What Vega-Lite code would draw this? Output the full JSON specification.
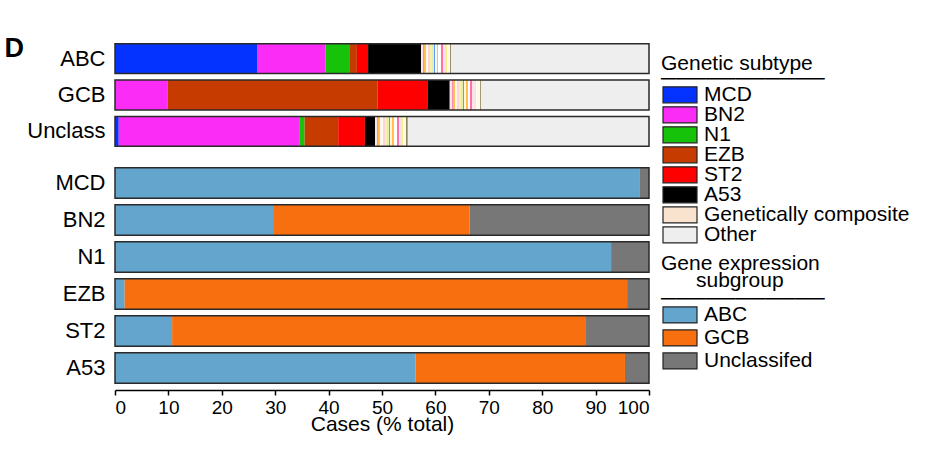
{
  "$schema": "https://vega.github.io/schema/vega-lite/v6.json",
  "padding": {"left": 4, "top": 34, "right": 5, "bottom": 5},
  "bounds": "flush",
  "spacing": 14,
  "background": "white",
  "config": {
    "font": "Liberation Sans",
    "view": {"stroke": null},
    "axis": {"labelColor": "#000", "titleColor": "#000", "grid": false},
    "axisX": {
      "labelFontSize": 19, "titleFontSize": 21, "titleFontWeight": "normal",
      "domainColor": "#000", "domainWidth": 1.5, "tickColor": "#000", "tickWidth": 1.5,
      "tickSize": 5, "labelPadding": 3, "titlePadding": -4
    },
    "legend": {
      "symbolType": "M-1.0625,-1H3.1875V1H-1.0625Z",
      "symbolSize": 256,
      "symbolStrokeColor": "#222",
      "symbolStrokeWidth": 1.2,
      "symbolOpacity": 1,
      "labelFontSize": 21,
      "labelColor": "#000",
      "titleColor": "#000",
      "titleFontSize": 21,
      "titleFontWeight": "normal",
      "labelOffset": 22,
      "titleLimit": 400,
      "labelLimit": 400
    }
  },
  "resolve": {"scale": {"color": "independent"}},
  "datasets": {
    "genetic": [
      {"cohort": "ABC", "subtype": "MCD", "pct": 26.6},
      {"cohort": "ABC", "subtype": "BN2", "pct": 12.8},
      {"cohort": "ABC", "subtype": "N1", "pct": 4.6},
      {"cohort": "ABC", "subtype": "EZB", "pct": 1.3},
      {"cohort": "ABC", "subtype": "ST2", "pct": 2.1},
      {"cohort": "ABC", "subtype": "A53", "pct": 9.9},
      {"cohort": "ABC", "subtype": "Genetically composite", "pct": 5.6},
      {"cohort": "ABC", "subtype": "Other", "pct": 37.1},
      {"cohort": "GCB", "subtype": "MCD", "pct": 0},
      {"cohort": "GCB", "subtype": "BN2", "pct": 9.9},
      {"cohort": "GCB", "subtype": "N1", "pct": 0},
      {"cohort": "GCB", "subtype": "EZB", "pct": 39.3},
      {"cohort": "GCB", "subtype": "ST2", "pct": 9.4},
      {"cohort": "GCB", "subtype": "A53", "pct": 4.1},
      {"cohort": "GCB", "subtype": "Genetically composite", "pct": 5.8},
      {"cohort": "GCB", "subtype": "Other", "pct": 31.5},
      {"cohort": "Unclass", "subtype": "MCD", "pct": 0.7},
      {"cohort": "Unclass", "subtype": "BN2", "pct": 33.8},
      {"cohort": "Unclass", "subtype": "N1", "pct": 1.0},
      {"cohort": "Unclass", "subtype": "EZB", "pct": 6.3},
      {"cohort": "Unclass", "subtype": "ST2", "pct": 5.0},
      {"cohort": "Unclass", "subtype": "A53", "pct": 1.9},
      {"cohort": "Unclass", "subtype": "Genetically composite", "pct": 6.1},
      {"cohort": "Unclass", "subtype": "Other", "pct": 45.2}
    ],
    "expression": [
      {"subtype": "MCD", "group": "ABC", "pct": 98.3},
      {"subtype": "MCD", "group": "GCB", "pct": 0},
      {"subtype": "MCD", "group": "Unclassifed", "pct": 1.7},
      {"subtype": "BN2", "group": "ABC", "pct": 29.6},
      {"subtype": "BN2", "group": "GCB", "pct": 36.8},
      {"subtype": "BN2", "group": "Unclassifed", "pct": 33.6},
      {"subtype": "N1", "group": "ABC", "pct": 92.9},
      {"subtype": "N1", "group": "GCB", "pct": 0},
      {"subtype": "N1", "group": "Unclassifed", "pct": 7.1},
      {"subtype": "EZB", "group": "ABC", "pct": 1.8},
      {"subtype": "EZB", "group": "GCB", "pct": 94.1},
      {"subtype": "EZB", "group": "Unclassifed", "pct": 4.1},
      {"subtype": "ST2", "group": "ABC", "pct": 10.7},
      {"subtype": "ST2", "group": "GCB", "pct": 77.5},
      {"subtype": "ST2", "group": "Unclassifed", "pct": 11.8},
      {"subtype": "A53", "group": "ABC", "pct": 56.3},
      {"subtype": "A53", "group": "GCB", "pct": 39.2},
      {"subtype": "A53", "group": "Unclassifed", "pct": 4.5}
    ]
  },
  "vconcat": [
    {
      "width": 534,
      "height": 110,
      "data": {"name": "genetic"},
      "transform": [{"stack": "pct", "groupby": ["cohort"], "as": ["x0", "x1"]}],
      "encoding": {
        "y": {
          "field": "cohort", "type": "nominal",
          "sort": ["ABC", "GCB", "Unclass"],
          "scale": {"paddingInner": 0.18, "paddingOuter": 0.1},
          "axis": {
            "title": "D", "titleAngle": 0, "titleX": -111, "titleY": -5,
            "titleBaseline": "top", "titleAlign": "left",
            "titleFontSize": 27, "titleFontWeight": "bold",
            "labelFontSize": 22, "labelPadding": 10,
            "ticks": false, "domain": false
          }
        }
      },
      "layer": [
        {
          "mark": {"type": "bar"},
          "encoding": {
            "x": {"field": "x0", "type": "quantitative",
                  "scale": {"domain": [0, 100], "nice": false}, "axis": null},
            "x2": {"field": "x1"},
            "color": {
              "field": "subtype", "type": "nominal",
              "scale": {
                "domain": ["MCD", "BN2", "N1", "EZB", "ST2", "A53", "Genetically composite", "Other"],
                "range": ["#0433FF", "#FB2CF5", "#16C20A", "#C63C00", "#FF0000", "#000000", "#F9E3CF", "#EEEEEE"]
              },
              "legend": {
                "title": ["Genetic subtype", "───────────"],
                "orient": "none", "legendX": 546, "legendY": 13,
                "titleLineHeight": 15, "titlePadding": -3.8, "rowPadding": -2,
                "clipHeight": 19.3
              }
            }
          }
        },
        {
          "transform": [{"filter": "datum.subtype === 'Genetically composite'"}],
          "mark": {"type": "bar", "fill": {"gradient": "linear", "x1": 0, "y1": 0, "x2": 1, "y2": 0, "stops": [
                    {"offset": 0, "color": "#FCE4EC"}, {"offset": 0.06, "color": "#FCE4EC"},
                    {"offset": 0.06, "color": "#F48FB1"}, {"offset": 0.1, "color": "#F48FB1"},
                    {"offset": 0.1, "color": "#FFC04C"}, {"offset": 0.16, "color": "#FFC04C"},
                    {"offset": 0.16, "color": "#FFF8F0"}, {"offset": 0.24, "color": "#FFF8F0"},
                    {"offset": 0.24, "color": "#FAD4E0"}, {"offset": 0.3, "color": "#FAD4E0"},
                    {"offset": 0.3, "color": "#F8F2A0"}, {"offset": 0.36, "color": "#F8F2A0"},
                    {"offset": 0.36, "color": "#E4EEB0"}, {"offset": 0.42, "color": "#E4EEB0"},
                    {"offset": 0.42, "color": "#5A9FFF"}, {"offset": 0.47, "color": "#5A9FFF"},
                    {"offset": 0.47, "color": "#FFF5E0"}, {"offset": 0.53, "color": "#FFF5E0"},
                    {"offset": 0.53, "color": "#FFC04C"}, {"offset": 0.58, "color": "#FFC04C"},
                    {"offset": 0.58, "color": "#FFFFFF"}, {"offset": 0.66, "color": "#FFFFFF"},
                    {"offset": 0.66, "color": "#FF6FA8"}, {"offset": 0.72, "color": "#FF6FA8"},
                    {"offset": 0.72, "color": "#FCE4EC"}, {"offset": 0.8, "color": "#FCE4EC"},
                    {"offset": 0.8, "color": "#F8F090"}, {"offset": 0.86, "color": "#F8F090"},
                    {"offset": 0.86, "color": "#FFFBEA"}, {"offset": 0.96, "color": "#FFFBEA"},
                    {"offset": 0.96, "color": "#8C8458"}, {"offset": 1, "color": "#8C8458"}
                  ]}},
          "encoding": {
            "x": {"field": "x0", "type": "quantitative",
                  "scale": {"domain": [0, 100], "nice": false}, "axis": null},
            "x2": {"field": "x1"}
          }
        },
        {
          "mark": {"type": "bar", "fill": "transparent", "stroke": "#2a2a2a", "strokeWidth": 1.5},
          "encoding": {
            "x": {"aggregate": "sum", "field": "pct", "type": "quantitative",
                  "scale": {"domain": [0, 100], "nice": false}, "axis": null}
          }
        }
      ]
    },
    {
      "width": 534,
      "height": 223,
      "data": {"name": "expression"},
      "transform": [{"stack": "pct", "groupby": ["subtype"], "as": ["x0", "x1"]}],
      "encoding": {
        "y": {
          "field": "subtype", "type": "nominal",
          "sort": ["MCD", "BN2", "N1", "EZB", "ST2", "A53"],
          "scale": {"paddingInner": 0.176, "paddingOuter": 0.1},
          "axis": {"title": null, "labelFontSize": 22, "labelPadding": 10, "ticks": false, "domain": false}
        }
      },
      "layer": [
        {
          "mark": {"type": "bar"},
          "encoding": {
            "x": {"field": "x0", "type": "quantitative",
                  "scale": {"domain": [0, 100], "nice": false},
                  "axis": {"title": "Cases (% total)", "values": [0, 10, 20, 30, 40, 50, 60, 70, 80, 90, 100], "offset": 3}},
            "x2": {"field": "x1"},
            "color": {
              "field": "group", "type": "nominal",
              "scale": {"domain": ["ABC", "GCB", "Unclassifed"], "range": ["#63A5CC", "#F76F0E", "#777777"]},
              "legend": {
                "title": ["Gene expression", "\u200b\u00a0\u00a0\u00a0\u00a0\u00a0\u00a0subgroup", "───────────"],
                "orient": "none", "legendX": 546, "legendY": 89,
                "titleLineHeight": 17.4, "titlePadding": -5, "rowPadding": -1,
                "clipHeight": 22.3
              }
            }
          }
        },
        {
          "mark": {"type": "bar", "fill": "transparent", "stroke": "#2a2a2a", "strokeWidth": 1.5},
          "encoding": {
            "x": {"aggregate": "sum", "field": "pct", "type": "quantitative",
                  "scale": {"domain": [0, 100], "nice": false},
                  "axis": {"title": "Cases (% total)", "values": [0, 10, 20, 30, 40, 50, 60, 70, 80, 90, 100], "offset": 3}}
          }
        }
      ]
    }
  ]
}
